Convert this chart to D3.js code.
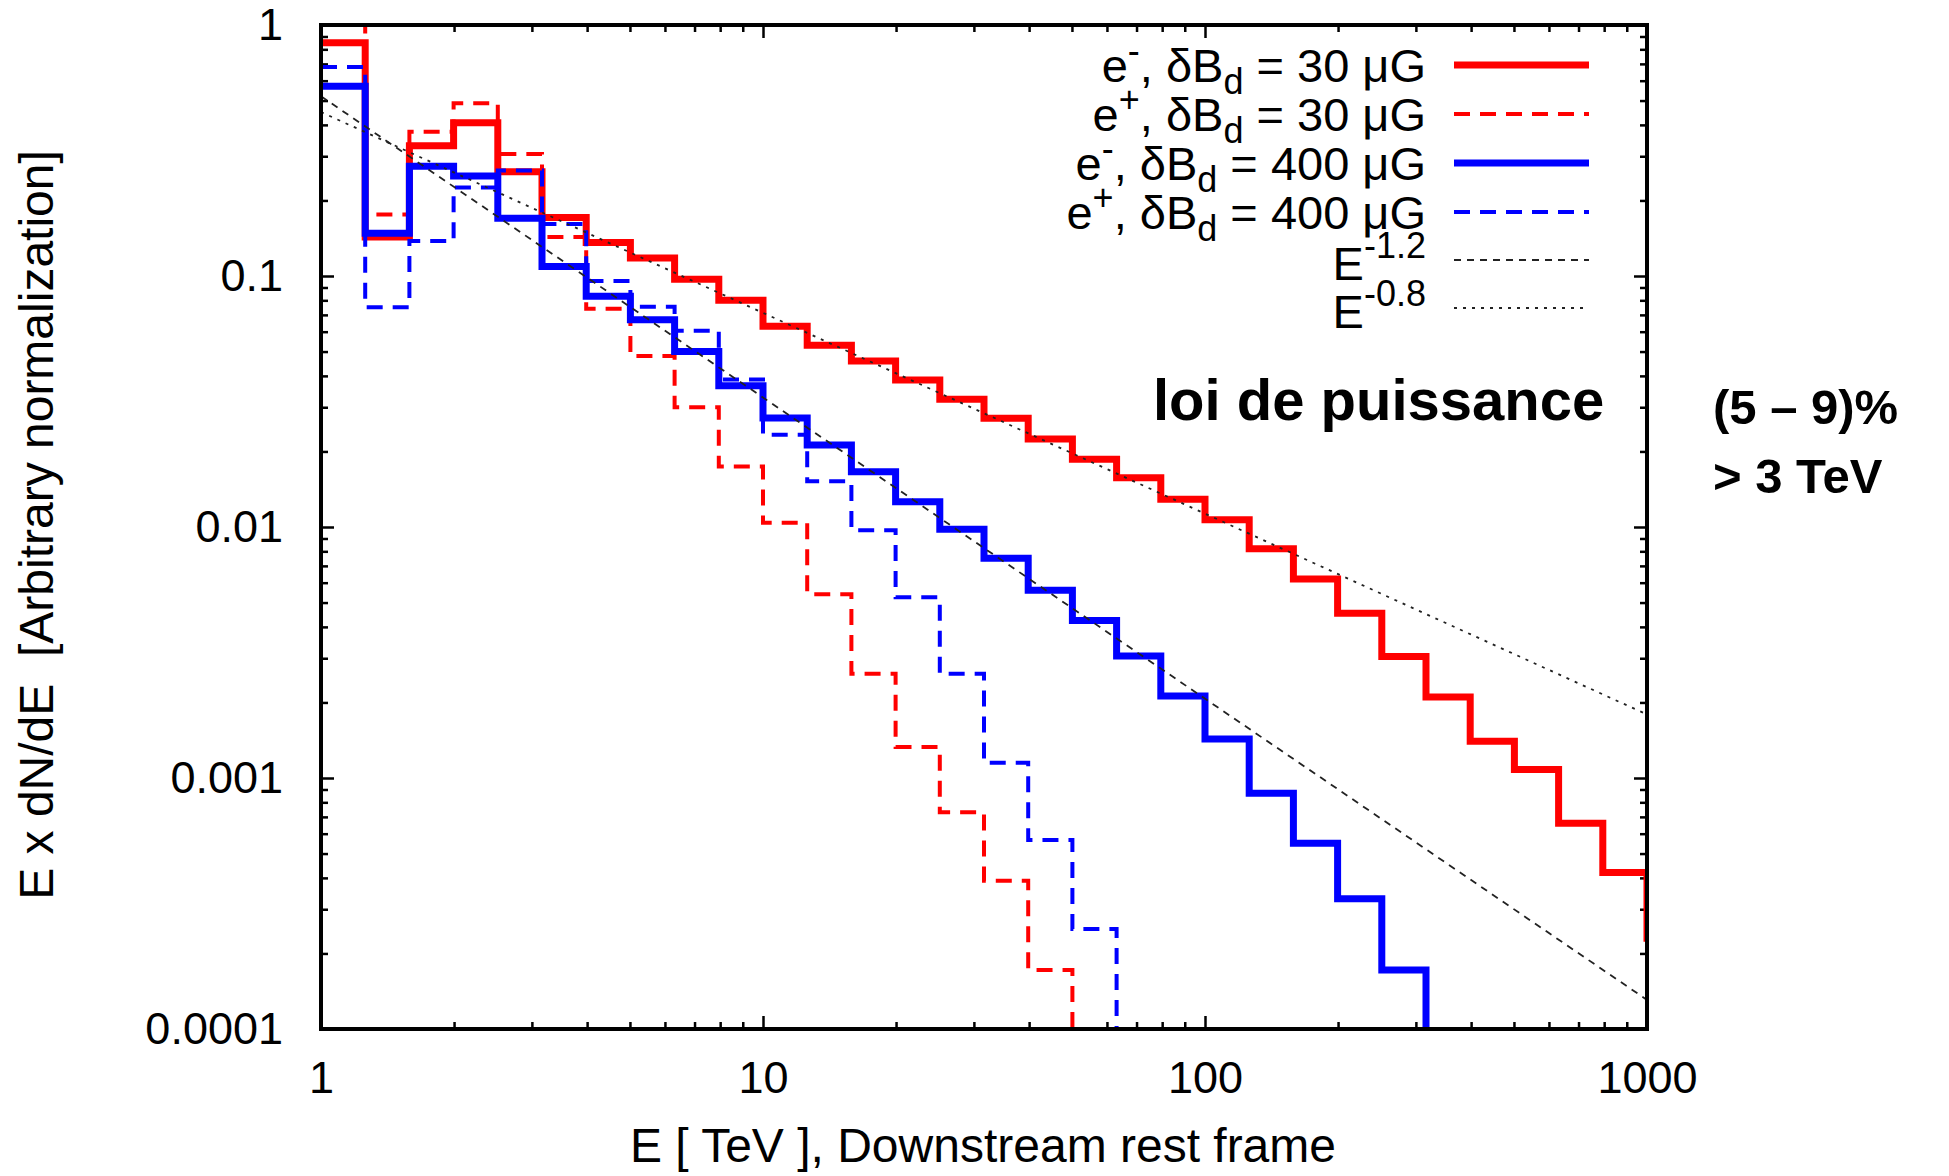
<!DOCTYPE html>
<html>
<head>
<meta charset="utf-8">
<script src="https://cdn.jsdelivr.net/npm/d3@7"></script>
<style>
  body { margin: 0; background: #fff; }
  svg { display: block; }
  text { font-family: "Liberation Sans", Arial, Helvetica, sans-serif; fill: #000; white-space: pre; }
</style>
</head>
<body>
<svg id="chart" width="1949" height="1176"></svg>
<script>
// Energy bins: ten logarithmic bins per decade starting at 1 TeV
const binsPerDecade = 10;
const firstEdge = 1;

// E x dN/dE per bin (bin k spans 10^(k/10) .. 10^((k+1)/10) TeV)
const electrons30 = [0.85, 0.143, 0.33, 0.408, 0.26, 0.171, 0.136, 0.118, 0.097, 0.080,
  0.063, 0.053, 0.0458, 0.0385, 0.0323, 0.0271, 0.0224, 0.0186, 0.0157, 0.0129,
  0.0107, 0.0082, 0.0062, 0.00453, 0.00305, 0.0021, 0.0014, 0.00108, 0.00066, 0.00042,
  0.00023];
const positrons30 = [1.15, 0.176, 0.376, 0.488, 0.306, 0.143, 0.074, 0.048, 0.030, 0.0174,
  0.0104, 0.0054, 0.0026, 0.00133, 0.00073, 0.00039, 0.000172];
const electrons400 = [0.57, 0.148, 0.274, 0.25, 0.17, 0.109, 0.083, 0.067, 0.050, 0.0365,
  0.0272, 0.0212, 0.0166, 0.0126, 0.0098, 0.0075, 0.0056, 0.00424, 0.00306, 0.00212,
  0.00143, 0.00087, 0.00055, 0.00033, 0.000172];
const positrons400 = [0.68, 0.075, 0.138, 0.225, 0.263, 0.161, 0.0955, 0.0755, 0.0605, 0.0387,
  0.0233, 0.0152, 0.0097, 0.00525, 0.0026, 0.00115, 0.000566, 0.00025];

// Reference power laws: norm * E^exponent
const lawExponents = [-1.2, -0.8];
const lawNorms = [0.52, 0.45];
const lawLabels = ["-1.2", "-0.8"];

// Axis ticks
const xTickValues = [1, 10, 100, 1000];
const xTickLabels = ["1", "10", "100", "1000"];
const yTickValues = [1e-4, 1e-3, 1e-2, 1e-1, 1];
const yTickLabels = ["0.0001", "0.001", "0.01", "0.1", "1"];

// Legend labels
const particleSigns = ["-", "+", "-", "+"];
const fieldLabels = ["30", "30", "400", "400"];

const svg = d3.select("#chart");
const W = 1949, H = 1176;
const plot = { left: 321, right: 1647, top: 25, bottom: 1029 };

svg.append("rect").attr("width", W).attr("height", H).attr("fill", "#fff");

const x = d3.scaleLog().domain([1, 1000]).range([plot.left, plot.right]);
const y = d3.scaleLog().domain([1e-4, 1]).range([plot.bottom, plot.top]);

const edge = k => firstEdge * Math.pow(10, k / binsPerDecade);

svg.append("clipPath").attr("id", "plotClip")
  .append("rect")
  .attr("x", plot.left).attr("y", plot.top)
  .attr("width", plot.right - plot.left).attr("height", plot.bottom - plot.top);

// minor tick positions: 2..9 within each decade
function minorTicks(lo, hi) {
  const out = [];
  for (let d = lo; d < hi; d *= 10) for (let m = 2; m <= 9; m++) out.push(d * m);
  return out;
}
const xMinor = minorTicks(1, 1000);
const yMinor = minorTicks(1e-4, 1);

const majorLen = 13, minorLen = 7;
const fmt = (vals, labels) => v => labels[vals.indexOf(v)];

function styleAxis(g) {
  g.select(".domain").remove();
  g.selectAll(".tick line").attr("stroke", "#000").attr("stroke-width", 2.5);
  g.selectAll("text").attr("font-size", 45).attr("font-family", '"Liberation Sans", Arial, sans-serif').attr("fill", "#000");
}

// bottom axis
svg.append("g").attr("transform", `translate(0,${plot.bottom})`)
  .call(d3.axisBottom(x).tickValues(xTickValues).tickFormat(fmt(xTickValues, xTickLabels))
    .tickSize(-majorLen).tickPadding(32))
  .call(styleAxis);
svg.append("g").attr("transform", `translate(0,${plot.bottom})`)
  .call(d3.axisBottom(x).tickValues(xMinor).tickFormat("").tickSize(-minorLen))
  .call(styleAxis);
// top axis (mirror)
svg.append("g").attr("transform", `translate(0,${plot.top})`)
  .call(d3.axisTop(x).tickValues(xTickValues).tickFormat("").tickSize(-majorLen))
  .call(styleAxis);
svg.append("g").attr("transform", `translate(0,${plot.top})`)
  .call(d3.axisTop(x).tickValues(xMinor).tickFormat("").tickSize(-minorLen))
  .call(styleAxis);
// left axis
svg.append("g").attr("transform", `translate(${plot.left},0)`)
  .call(d3.axisLeft(y).tickValues(yTickValues).tickFormat(fmt(yTickValues, yTickLabels))
    .tickSize(-majorLen).tickPadding(38))
  .call(styleAxis);
svg.append("g").attr("transform", `translate(${plot.left},0)`)
  .call(d3.axisLeft(y).tickValues(yMinor).tickFormat("").tickSize(-minorLen))
  .call(styleAxis);
// right axis (mirror)
svg.append("g").attr("transform", `translate(${plot.right},0)`)
  .call(d3.axisRight(y).tickValues(yTickValues).tickFormat("").tickSize(-majorLen))
  .call(styleAxis);
svg.append("g").attr("transform", `translate(${plot.right},0)`)
  .call(d3.axisRight(y).tickValues(yMinor).tickFormat("").tickSize(-minorLen))
  .call(styleAxis);

// histogram series
const series = [
  { values: electrons30, color: "#ff0000", width: 7, dash: null },
  { values: positrons30, color: "#ff0000", width: 4, dash: "16,10" },
  { values: electrons400, color: "#0000ff", width: 7, dash: null },
  { values: positrons400, color: "#0000ff", width: 4, dash: "16,10" }
];

const stepLine = d3.line().x(d => x(d[0])).y(d => y(d[1])).curve(d3.curveStepAfter);
const floorValue = y.domain()[0];

const plotG = svg.append("g").attr("clip-path", "url(#plotClip)");

series.forEach(s => {
  const n = s.values.length;
  const pts = s.values.map((v, k) => [edge(k), v]);
  pts.push([edge(n), s.values[n - 1]]);
  pts.push([edge(n), floorValue]);
  plotG.append("path")
    .attr("d", stepLine(pts))
    .attr("fill", "none")
    .attr("stroke", s.color)
    .attr("stroke-width", s.width)
    .attr("stroke-dasharray", s.dash)
    .attr("stroke-linejoin", "miter")
    .attr("stroke-linecap", "butt");
});

// power-law guides
const lawStyles = [
  { dash: "7,6", width: 1.8 },
  { dash: "3,6", width: 1.8 }
];
const straight = d3.line().x(d => x(d[0])).y(d => y(d[1]));
lawExponents.forEach((p, i) => {
  const pts = x.domain().map(e => [e, lawNorms[i] * Math.pow(e, p)]);
  plotG.append("path")
    .attr("d", straight(pts))
    .attr("fill", "none")
    .attr("stroke", "#222")
    .attr("stroke-width", lawStyles[i].width)
    .attr("stroke-dasharray", lawStyles[i].dash);
});

// frame
svg.append("rect")
  .attr("x", plot.left).attr("y", plot.top)
  .attr("width", plot.right - plot.left).attr("height", plot.bottom - plot.top)
  .attr("fill", "none").attr("stroke", "#000").attr("stroke-width", 4);

// legend
const legend = svg.append("g");
const legendTextX = 1426, legendLineX0 = 1454, legendLineX1 = 1589;
const rowY = [65, 114, 163, 212, 260, 308];
const legFont = 47, subFont = 36;

series.forEach((s, i) => {
  const ty = rowY[i] + 17;
  const t = legend.append("text").attr("x", legendTextX).attr("y", ty)
    .attr("text-anchor", "end").attr("font-size", legFont);
  t.append("tspan").text("e");
  t.append("tspan").attr("font-size", subFont).attr("dy", -19).text(particleSigns[i]);
  t.append("tspan").attr("dy", 19).text(", δB");
  t.append("tspan").attr("font-size", subFont).attr("dy", 12).text("d");
  t.append("tspan").attr("dy", -12).text(` = ${fieldLabels[i]} μG`);
  legend.append("line")
    .attr("x1", legendLineX0).attr("x2", legendLineX1)
    .attr("y1", rowY[i]).attr("y2", rowY[i])
    .attr("stroke", s.color).attr("stroke-width", s.width)
    .attr("stroke-dasharray", s.dash);
});

lawExponents.forEach((p, i) => {
  const row = 4 + i;
  const t = legend.append("text").attr("x", legendTextX).attr("y", rowY[row] + 20)
    .attr("text-anchor", "end").attr("font-size", legFont);
  t.append("tspan").text("E");
  t.append("tspan").attr("font-size", subFont).attr("dy", -22).text(lawLabels[i]);
  legend.append("line")
    .attr("x1", legendLineX0).attr("x2", legendLineX1)
    .attr("y1", rowY[row]).attr("y2", rowY[row])
    .attr("stroke", "#222").attr("stroke-width", lawStyles[i].width)
    .attr("stroke-dasharray", lawStyles[i].dash);
});

// axis titles
svg.append("text")
  .attr("x", 983).attr("y", 1162)
  .attr("text-anchor", "middle").attr("font-size", 48)
  .text("E [ TeV ], Downstream rest frame");

svg.append("text")
  .attr("transform", "translate(53,525) rotate(-90)")
  .attr("text-anchor", "middle").attr("font-size", 48)
  .text("E x dN/dE  [Arbitrary normalization]");

// annotations
svg.append("text")
  .attr("x", 1153).attr("y", 420)
  .attr("font-size", 58).attr("font-weight", "bold")
  .text("loi de puissance");
svg.append("text")
  .attr("x", 1713).attr("y", 424)
  .attr("font-size", 49).attr("font-weight", "bold")
  .text("(5 – 9)%");
svg.append("text")
  .attr("x", 1713).attr("y", 493)
  .attr("font-size", 49).attr("font-weight", "bold")
  .text("> 3 TeV");
</script>
</body>
</html>
